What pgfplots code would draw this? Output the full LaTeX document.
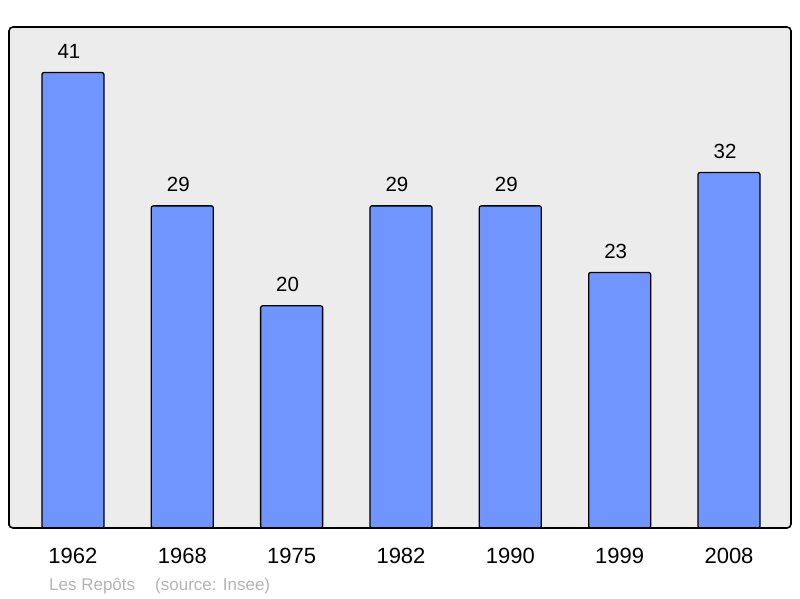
\documentclass[border=0pt]{standalone}
\usepackage{fontspec}
\setmainfont{Liberation Sans}
\usepackage{pgfplots}
\pgfplotsset{compat=1.18}
\definecolor{barBlue}{HTML}{7095FF}
\definecolor{bgGrey}{HTML}{ECECEC}
\definecolor{footGrey}{HTML}{B4B4B4}

\begin{document}
\begin{tikzpicture}
\useasboundingbox (-9pt,-70pt) rectangle (791pt,528pt);
\begin{axis}[
    at={(0pt,0pt)}, anchor=south west,
    scale only axis,
    width=782pt, height=501pt,
    xmin=-0.585, xmax=6.567,
    ymin=0, ymax=45.1,
    xtick={0,...,6},
    xticklabels={1962,1968,1975,1982,1990,1999,2008},
    ytick=\empty,
    major tick length=0pt,
    /pgf/number format/assume math mode=true,
    xticklabel style={font=\fontsize{22}{26}\selectfont, yshift=-17pt},
    axis background/.style={fill=bgGrey},
    axis line style={line width=1.6pt, rounded corners=4pt},
    axis on top,
    ybar, bar width=62pt,
    nodes near coords,
    every node near coord/.append style={font=\fontsize{20.5}{24}\selectfont, yshift=10pt, xshift=-4pt},
]
  \addplot[fill=barBlue, draw=black, line width=1.3pt, rounded corners=2pt]
    coordinates {(0,41) (1,29) (2,20) (3,29) (4,29) (5,23) (6,32)};
\end{axis}
\node[anchor=base west, inner sep=0pt, text=footGrey, font=\fontsize{17}{20}\selectfont]
  at (40pt,-62pt) {Les Repôts};
\node[anchor=base west, inner sep=0pt, text=footGrey, font=\fontsize{17}{20}\selectfont]
  at (146pt,-62pt) {(source: Insee)};
\end{tikzpicture}
\end{document}
